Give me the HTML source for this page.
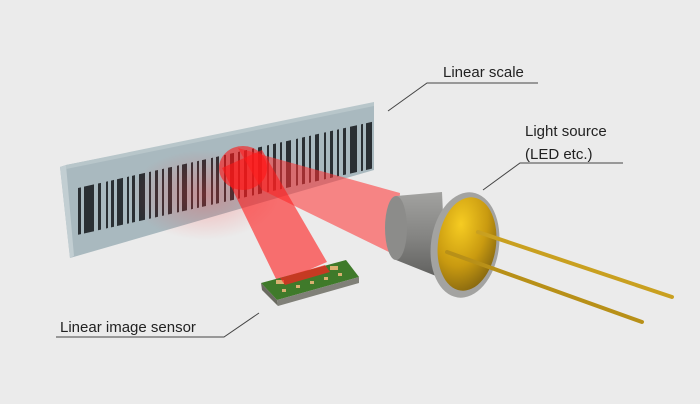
<!DOCTYPE html>
<html><head><meta charset="utf-8"><style>
html,body{margin:0;padding:0;background:#ebebeb;}
svg{display:block}
text{font-family:"Liberation Sans",sans-serif;fill:#222;font-size:15px}
</style></head><body>
<svg width="700" height="404" viewBox="0 0 700 404" xmlns="http://www.w3.org/2000/svg">
<defs>
<radialGradient id="glow" cx="0.5" cy="0.5" r="0.5">
<stop offset="0" stop-color="#ff3030" stop-opacity="0.3"/><stop offset="1" stop-color="#ff3030" stop-opacity="0"/></radialGradient>
<linearGradient id="body" x1="0" y1="0" x2="0" y2="1"><stop offset="0" stop-color="#a2a2a0"/><stop offset="0.5" stop-color="#858583"/><stop offset="1" stop-color="#5e5e5c"/></linearGradient>
<radialGradient id="gold" cx="0.35" cy="0.3" r="0.75"><stop offset="0" stop-color="#f6cc22"/><stop offset="0.6" stop-color="#c99a10"/><stop offset="1" stop-color="#8a6a10"/></radialGradient>
</defs>
<rect width="700" height="404" fill="#ebebeb"/>
<!-- scale -->
<polygon points="60,167 66,165 374,104 374,170 70,258" fill="#a9b9bf"/>
<polygon points="60,167 66,165 74,256 70,258" fill="#c2ced2"/>
<polygon points="66,165 374,102 374,106 66,169" fill="#b8c6ca"/>
<g transform="matrix(1,-0.225,0,0.9,78,188)" fill="#2a2f33">
<rect x="0" y="0" width="3" height="52"/><rect x="6" y="0" width="10" height="52"/><rect x="20" y="0" width="3" height="52"/>
<rect x="28" y="0" width="2" height="52"/><rect x="33" y="0" width="3" height="52"/><rect x="39" y="0" width="6" height="52"/>
<rect x="49" y="0" width="2" height="52"/><rect x="54" y="0" width="3" height="52"/><rect x="61" y="0" width="6" height="52"/>
<rect x="71" y="0" width="2" height="52"/><rect x="77" y="0" width="3" height="52"/><rect x="84" y="0" width="2" height="52"/>
<rect x="90" y="0" width="4" height="52"/><rect x="99" y="0" width="2" height="52"/><rect x="104" y="0" width="5" height="52"/>
<rect x="113" y="0" width="2" height="52"/><rect x="119" y="0" width="2" height="52"/><rect x="124" y="0" width="4" height="52"/>
<rect x="133" y="0" width="2" height="52"/><rect x="138" y="0" width="3" height="52"/><rect x="146" y="0" width="2" height="52"/>
<rect x="152" y="0" width="4" height="52"/><rect x="160" y="0" width="2" height="52"/><rect x="166" y="0" width="3" height="52"/>
<rect x="174" y="0" width="2" height="52"/><rect x="180" y="0" width="4" height="52"/><rect x="189" y="0" width="2" height="52"/>
<rect x="195" y="0" width="3" height="52"/><rect x="202" y="0" width="2" height="52"/><rect x="208" y="0" width="5" height="52"/>
<rect x="218" y="0" width="2" height="52"/><rect x="224" y="0" width="3" height="52"/><rect x="231" y="0" width="2" height="52"/>
<rect x="237" y="0" width="4" height="52"/><rect x="246" y="0" width="2" height="52"/><rect x="252" y="0" width="3" height="52"/>
<rect x="259" y="0" width="2" height="52"/><rect x="265" y="0" width="3" height="52"/><rect x="272" y="0" width="7" height="52"/>
<rect x="283" y="0" width="2" height="52"/><rect x="288" y="0" width="6" height="52"/>
</g>
<!-- beams -->
<ellipse cx="205" cy="195" rx="75" ry="45" fill="url(#glow)"/>
<polygon points="238,148 400,193 395,255 262,190" fill="#ff3030" fill-opacity="0.55"/>
<polygon points="222,168 262,150 327,262 278,283" fill="#ff1a1a" fill-opacity="0.6"/>
<ellipse cx="243" cy="168" rx="24" ry="22" fill="#ff1515" fill-opacity="0.6"/>
<!-- sensor -->
<polygon points="261,283 346,260 359,277 277,300" fill="#3f7a2a"/>
<polygon points="261,283 277,300 278,306 262,290" fill="#6a6a60"/>
<polygon points="277,300 359,277 359,283 278,306" fill="#808078"/>
<g fill="#d9b070"><rect x="282" y="289" width="4" height="3"/><rect x="296" y="285" width="4" height="3"/><rect x="310" y="281" width="4" height="3"/><rect x="324" y="277" width="4" height="3"/><rect x="338" y="273" width="4" height="3"/>
<rect x="276" y="280" width="8" height="4"/><rect x="330" y="266" width="8" height="4"/></g>
<polygon points="280,278 325,265 330,272 285,285" fill="#ff2020" fill-opacity="0.7"/>
<!-- LED -->
<path d="M396,196 L442,192 L446,280 L396,260 Z" fill="url(#body)"/>
<ellipse cx="396" cy="228" rx="11" ry="32" fill="#8c8c8a"/>
<ellipse cx="465" cy="245" rx="34" ry="53" transform="rotate(8 465 245)" fill="#a3a3a1"/>
<ellipse cx="467" cy="244" rx="29" ry="47" transform="rotate(8 467 244)" fill="url(#gold)"/>
<line x1="478" y1="232" x2="672" y2="297" stroke="#c9a020" stroke-width="4" stroke-linecap="round"/>
<line x1="447" y1="252" x2="642" y2="322" stroke="#b89018" stroke-width="4" stroke-linecap="round"/>
<!-- labels -->
<text x="443" y="77">Linear scale</text>
<polyline points="388,111 427,83 538,83" fill="none" stroke="#444" stroke-width="1"/>
<text x="525" y="136">Light source</text>
<text x="525" y="159">(LED etc.)</text>
<polyline points="483,190 520,163 623,163" fill="none" stroke="#444" stroke-width="1"/>
<text x="60" y="332">Linear image sensor</text>
<polyline points="56,337 224,337 259,313" fill="none" stroke="#444" stroke-width="1"/>
</svg>
</body></html>
